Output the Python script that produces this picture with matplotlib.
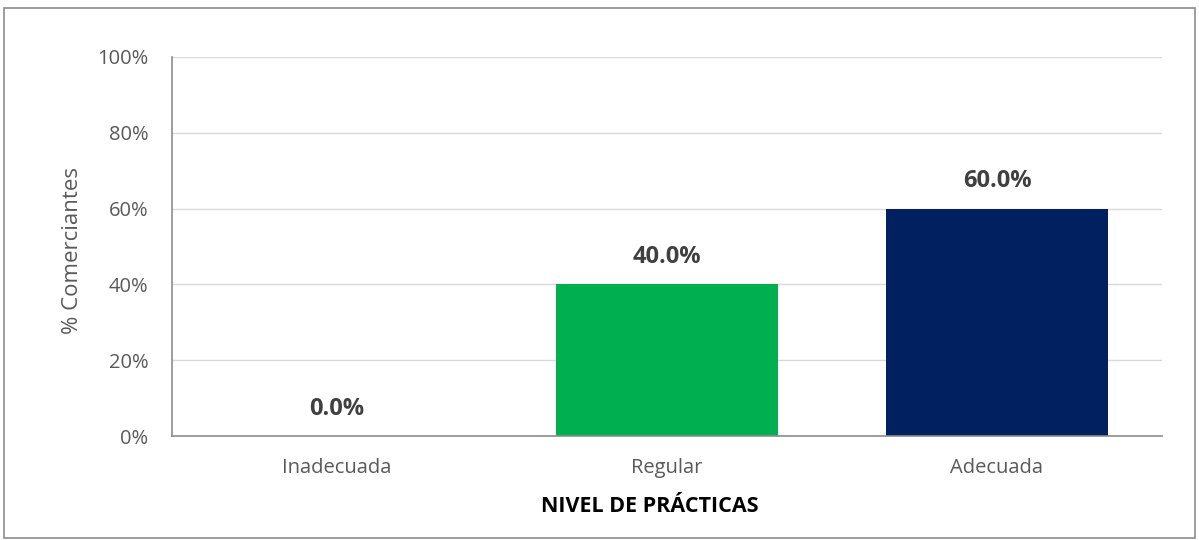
import matplotlib
matplotlib.use("Agg")
import matplotlib.pyplot as plt
from matplotlib.patches import Rectangle
from matplotlib.ticker import FuncFormatter

categories = ["Inadecuada", "Regular", "Adecuada"]
values = [0.0, 40.0, 60.0]
colors = ["#00B050", "#00B050", "#002060"]
yticks = [0, 20, 40, 60, 80, 100]

plt.rcParams['font.family'] = ['Open Sans', 'DejaVu Sans']

W, H = 1199, 540
fig = plt.figure(figsize=(W / 100, H / 100), dpi=100)
ax = fig.add_axes([172 / W, 1 - 436 / H, (1162 - 172) / W, (436 - 57) / H])

x = list(range(len(categories)))
ax.bar(x, values, width=0.67, color=colors, zorder=3)
ax.set_xlim(-0.5, len(categories) - 0.5)
ax.set_ylim(0, 100)
ax.set_yticks(yticks)
ax.yaxis.set_major_formatter(FuncFormatter(lambda v, p: f"{v:.0f}%"))
ax.set_xticks(x)
ax.set_xticklabels(categories)
ax.tick_params(axis='both', length=0, colors="#595959", labelsize=14.5)
ax.tick_params(axis='y', pad=17)
ax.tick_params(axis='x', pad=16)
ax.grid(axis='y', color="#d9d9d9", linewidth=1, zorder=0)
for s in ["top", "right"]:
    ax.spines[s].set_visible(False)
for s in ["left", "bottom"]:
    ax.spines[s].set_color("#8c8c8c")
    ax.spines[s].set_linewidth(1.2)
    ax.spines[s].set_zorder(4)

for xi, v in zip(x, values):
    ax.annotate(f"{v:.1f}%", (xi, v), xytext=(0, 11), textcoords="offset points",
                ha="center", va="bottom", fontsize=17, fontweight="bold", color="#404040")

ax.set_ylabel("% Comerciantes", fontsize=16, color="#595959")
ax.yaxis.set_label_coords((73 - 172) / (1162 - 172), (436 - 250) / (436 - 57))
ax.set_xlabel("NIVEL DE PRÁCTICAS", fontsize=15.5, fontweight="bold", color="black")
ax.xaxis.set_label_coords((650 - 172) / (1162 - 172), -(506 - 436) / (436 - 57))
ax.xaxis.label.set_va("center")
ax.yaxis.label.set_va("center")

fig.patches.append(Rectangle((4 / W, 2 / H), (W - 8) / W, (H - 10) / H, transform=fig.transFigure,
                             fill=False, edgecolor="#8c8c8c", linewidth=1.2))

fig.savefig("out.png", dpi=100)
